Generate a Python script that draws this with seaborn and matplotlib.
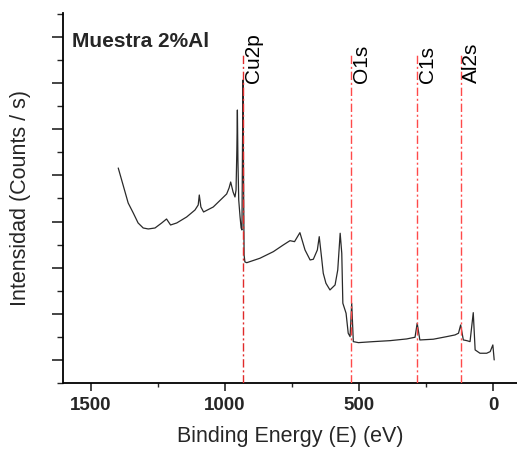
import numpy as np
import pandas as pd
import matplotlib
matplotlib.use("Agg")
import matplotlib.pyplot as plt
import matplotlib.transforms as mtransforms
from matplotlib.ticker import MultipleLocator, NullFormatter
import seaborn as sns

# ---- data ----
binding_energy = [1398, 1380, 1361, 1342, 1324, 1305, 1286, 1261, 1236, 1218, 1203, 1180,
                  1143, 1112, 1100, 1096, 1090, 1080, 1044, 994, 985, 979, 970, 963, 959,
                  956, 954, 952, 949, 944, 940, 937, 935, 933, 931, 929, 926, 919, 870, 820,
                  783, 758, 741, 721, 702, 683, 671, 656, 649, 640, 634, 624, 609, 590, 580,
                  571, 565, 561, 549, 541, 534, 528, 522, 503, 447, 385, 323, 292, 284, 274,
                  224, 174, 143, 130, 122, 112, 99, 87, 75, 68, 50, 25, 12, 2, -3]
intensity = [41600, 37920, 34020, 31850, 29690, 28600, 28390, 28600, 29690, 30550, 29250, 29690,
             30990, 32500, 33590, 35750, 33150, 32070, 33150, 35970, 37270, 38570, 36400, 35320, 36840,
             45500, 54170, 43340, 34670, 30990, 28600, 28170, 45500, 60680, 39000, 22750, 21240, 21080, 22040, 23470,
             24920, 25850, 25640, 27590, 23840, 21670, 21820, 23840, 26720, 22040, 18790, 16620, 15170, 16250, 19500,
             27460, 23120, 12290, 10120, 5790, 5050, 12290, 3970, 3750, 3970, 4180, 4550, 4920, 7950, 4330,
             4490, 5050, 5420, 5790, 7580, 4330, 4180, 3970, 10250, 2170, 1450, 1450, 1800, 3250, 0]

peak_labels = ["Cu2p", "O1s", "C1s", "Al2s"]
peak_positions = [932, 531, 285, 119]
peak_colors = ["#e02a2a", "#ff4a4a", "#ff4a4a", "#ff4a4a"]

sample_label = "Muestra 2%Al"
x_label = "Binding Energy (E) (eV)"
y_label = "Intensidad (Counts / s)"
x_ticks = [1500, 1000, 500, 0]

df = pd.DataFrame({"E": binding_energy, "I": intensity})

sns.set_theme(style="ticks")
plt.rcParams["font.family"] = ["Liberation Sans", "DejaVu Sans"]

fig = plt.figure(figsize=(5.17, 4.51), dpi=100)
ax = fig.add_axes([63.5 / 517, (451 - 383) / 451, (517 - 63.5) / 517, 370 / 451])

sns.lineplot(data=df, x="E", y="I", sort=False, estimator=None, ax=ax,
             color="#2a2a2a", linewidth=0.9)

for lab, pos, col in zip(peak_labels, peak_positions, peak_colors):
    ax.axvline(pos, ymin=0, ymax=(383 - 53) / 370, color=col, linewidth=1.0,
               linestyle=(0, (6, 2, 1.5, 2)), zorder=3)
    off = mtransforms.offset_copy(ax.get_xaxis_transform(), fig=fig, x=1, y=0, units="dots")
    ax.text(pos, (383 - 83) / 370, lab, rotation=90, ha="left", va="bottom",
            fontsize=15, transform=off, color="black")

ax.text(0.019, (383 - 47) / 370, sample_label, transform=ax.transAxes,
        fontsize=15, fontweight="bold", ha="left", va="baseline")

ax.set_xlim(1602, -88)
ax.set_ylim(-5000, 75200)
ax.set_xticks(x_ticks)
ax.xaxis.set_minor_locator(MultipleLocator(250))
ax.yaxis.set_major_locator(MultipleLocator(10000))
ax.yaxis.set_minor_locator(MultipleLocator(5000))
ax.yaxis.set_major_formatter(NullFormatter())
for lbl in ax.get_xticklabels():
    lbl.set_fontweight("bold")
ax.tick_params(axis="x", which="major", direction="out", length=6, width=1.2, labelsize=13.5, pad=4)
ax.tick_params(axis="x", which="minor", direction="out", length=3, width=1.0)
ax.tick_params(axis="y", which="major", direction="out", length=8, width=1.2)
ax.tick_params(axis="y", which="minor", direction="out", length=4, width=1.0)

ax.set_xlabel(x_label, fontsize=15.5, labelpad=9)
ax.set_ylabel(y_label, fontsize=15.5, labelpad=12)

for s in ["top", "right"]:
    ax.spines[s].set_visible(False)
for s in ["left", "bottom"]:
    ax.spines[s].set_linewidth(1.3)
    ax.spines[s].set_color("black")

fig.savefig("out.png", dpi=100)
